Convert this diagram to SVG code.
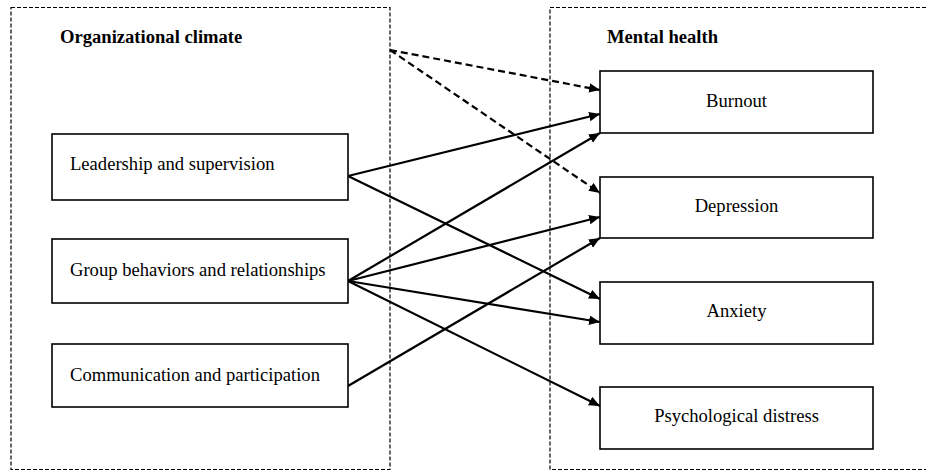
<svg xmlns="http://www.w3.org/2000/svg" width="926" height="471" viewBox="0 0 926 471">
<style>
.frame{fill:none;stroke:#000;stroke-width:1.2;stroke-dasharray:4 2}
.box{fill:#fff;stroke:#000;stroke-width:1.6}
.lbl{font-family:"Liberation Serif","Times New Roman",serif;font-size:18.6px;fill:#000}
.ttl{font-family:"Liberation Serif","Times New Roman",serif;font-size:18.6px;font-weight:bold;fill:#000}
.c{stroke:#000;stroke-width:2.2;fill:none;marker-end:url(#ah)}
.d{stroke-dasharray:7 4}
</style>
<defs>
<marker id="ah" markerUnits="userSpaceOnUse" markerWidth="13" markerHeight="11" refX="11" refY="4.75" orient="auto">
<path d="M0,0 L11,4.75 L0,9.5 z" fill="#000"/>
</marker>
</defs>
<g id="group-organizational-climate">
<rect class="frame" x="11" y="7.5" width="379" height="462"/>
<text class="ttl" x="60" y="43">Organizational climate</text>
</g>
<g id="group-mental-health">
<rect class="frame" x="550" y="7.5" width="390" height="462"/>
<text class="ttl" x="607" y="43">Mental health</text>
</g>
<g id="connectors">
<line class="c d" x1="390" y1="50" x2="600" y2="90"/>
<line class="c d" x1="390" y1="50" x2="600" y2="193"/>
<line class="c" x1="348" y1="176" x2="600" y2="114"/>
<line class="c" x1="348" y1="176" x2="600" y2="299"/>
<line class="c" x1="348" y1="281" x2="600" y2="133"/>
<line class="c" x1="348" y1="281" x2="600" y2="217"/>
<line class="c" x1="348" y1="281" x2="600" y2="322"/>
<line class="c" x1="348" y1="281" x2="600" y2="406"/>
<line class="c" x1="348" y1="386" x2="600" y2="238"/>
</g>
<g id="node-leadership">
<rect class="box" x="52" y="134" width="296" height="66"/>
<text class="lbl" x="70" y="169.5">Leadership and supervision</text>
</g>
<g id="node-group">
<rect class="box" x="52" y="239" width="296" height="64"/>
<text class="lbl" x="70" y="276">Group behaviors and relationships</text>
</g>
<g id="node-communication">
<rect class="box" x="52" y="344" width="296" height="63"/>
<text class="lbl" x="70" y="381">Communication and participation</text>
</g>
<g id="node-burnout">
<rect class="box" x="600" y="71" width="273" height="62"/>
<text class="lbl" x="736.5" y="107" text-anchor="middle">Burnout</text>
</g>
<g id="node-depression">
<rect class="box" x="600" y="177" width="273" height="61"/>
<text class="lbl" x="736.5" y="212" text-anchor="middle">Depression</text>
</g>
<g id="node-anxiety">
<rect class="box" x="600" y="282" width="273" height="62"/>
<text class="lbl" x="736.5" y="317" text-anchor="middle">Anxiety</text>
</g>
<g id="node-psychological-distress">
<rect class="box" x="600" y="387" width="273" height="62"/>
<text class="lbl" x="736.5" y="422" text-anchor="middle">Psychological distress</text>
</g>
</svg>
